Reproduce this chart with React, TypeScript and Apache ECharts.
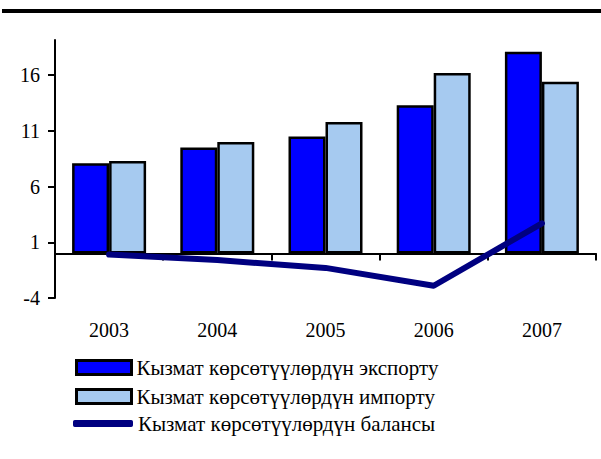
import React, { useEffect, useRef } from "react";
import * as echarts from "echarts";

const years = ["2003", "2004", "2005", "2006", "2007"];
const exportValues = [8.1, 9.5, 10.5, 13.3, 18.1];
const importValues = [8.3, 10.0, 11.8, 16.2, 15.4];
const balanceValues = [-0.1, -0.6, -1.3, -2.9, 2.7];
const yTicks = [-4, 1, 6, 11, 16];
const names = [
  "Кызмат көрсөтүүлөрдүн экспорту",
  "Кызмат көрсөтүүлөрдүн импорту",
  "Кызмат көрсөтүүлөрдүн балансы",
];

const FONT = "Liberation Serif";

export default function App() {
  const ref = useRef<HTMLDivElement>(null);
  useEffect(() => {
    if (!ref.current) return;
    const chart = echarts.init(ref.current, null, { renderer: "svg" });
    const legendText = { fontFamily: FONT, fontSize: 21, color: "#000" };
    chart.setOption({
      animation: false,
      backgroundColor: "#fff",
      textStyle: { fontFamily: FONT, color: "#000" },
      grid: { left: 55, right: 5, top: 40, bottom: 161, containLabel: false },
      graphic: [
        {
          type: "rect",
          shape: { x: 2, y: 9, width: 599, height: 4 },
          style: { fill: "#000" },
        },
      ],
      legend: [
        {
          data: [names[0]],
          orient: "vertical",
          left: 75,
          top: 357,
          padding: 0,
          itemWidth: 55,
          itemHeight: 14,
          icon: "rect",
          itemStyle: { borderColor: "#000", borderWidth: 3 },
          textStyle: legendText,
        },
        {
          data: [names[1]],
          orient: "vertical",
          left: 75,
          top: 386,
          padding: 0,
          itemWidth: 55,
          itemHeight: 14,
          icon: "rect",
          itemStyle: { borderColor: "#000", borderWidth: 3 },
          textStyle: legendText,
        },
        {
          data: [names[2]],
          orient: "vertical",
          left: 73,
          top: 413,
          padding: 0,
          itemWidth: 60,
          itemHeight: 7,
          icon: "roundRect",
          textStyle: legendText,
        },
      ],
      xAxis: [
        {
          type: "category",
          data: years,
          position: "bottom",
          axisLine: { show: false, onZero: false },
          axisTick: { show: false },
          axisLabel: { fontFamily: FONT, fontSize: 20, color: "#000", margin: 22 },
        },
        {
          type: "category",
          data: years,
          position: "bottom",
          axisLine: { show: true, onZero: true, lineStyle: { color: "#000", width: 2 } },
          axisTick: { show: true, length: 7, lineStyle: { color: "#000", width: 2 } },
          axisLabel: { show: false },
        },
      ],
      yAxis: {
        type: "value",
        min: -4,
        max: 19.15,
        interval: 5,
        splitLine: { show: false },
        axisLine: { show: true, lineStyle: { color: "#000", width: 2 } },
        axisTick: {
          show: true,
          length: 7,
          customValues: yTicks,
          lineStyle: { color: "#000", width: 2 },
        },
        axisLabel: {
          showMaxLabel: false,
          formatter: (v: number) => (yTicks.indexOf(Math.round(v * 100) / 100) >= 0 ? String(v) : ""),
          fontFamily: FONT,
          fontSize: 20,
          color: "#000",
          margin: 15,
        },
      },
      series: [
        {
          name: names[0],
          type: "bar",
          data: exportValues,
          barWidth: 37,
          barGap: "0%",
          itemStyle: { color: "#0000FF", borderColor: "#000", borderWidth: 2.5 },
        },
        {
          name: names[1],
          type: "bar",
          data: importValues,
          barWidth: 37,
          barGap: "0%",
          itemStyle: { color: "#A6CAF0", borderColor: "#000", borderWidth: 2.5 },
        },
        {
          name: names[2],
          type: "line",
          data: balanceValues,
          symbol: "none",
          z: 5,
          lineStyle: { color: "#000080", width: 6, cap: "round", join: "round" },
          itemStyle: { color: "#000080" },
        },
      ],
    });
    return () => chart.dispose();
  }, []);
  return <div ref={ref} style={{ width: 601, height: 459, position: "absolute", left: 0, top: 0 }} />;
}
